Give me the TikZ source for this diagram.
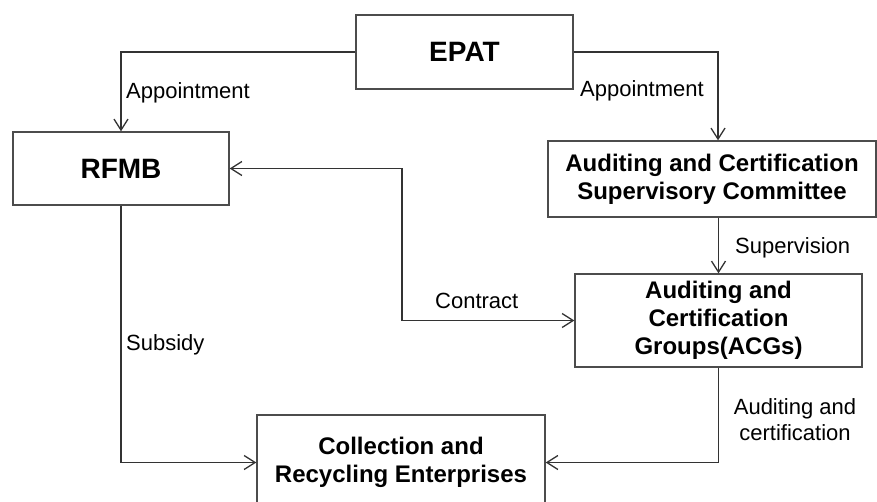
\documentclass[tikz,border=0pt]{standalone}
\usepackage{fontspec}
\setmainfont{Liberation Sans}
\usetikzlibrary{arrows.meta}
\begin{document}
\begin{tikzpicture}[
			x=1pt, y=-1pt,
			box/.style={draw=black!70, line width=1.4pt, fill=white, align=center, inner sep=0pt,
				font=\bfseries\fontsize{24}{28}\selectfont},
			big/.style={font=\bfseries\fontsize{28}{32}\selectfont},
			lbl/.style={inner sep=0pt, font=\fontsize{22}{26}\selectfont},
			conn/.style={draw=black!80, line width=1.3pt},
			arr/.style={conn, -{Straight Barb[length=11pt,width=14pt]}},
			darr/.style={conn, {Straight Barb[length=11pt,width=14pt]}-{Straight Barb[length=11pt,width=14pt]}}
			]
			\useasboundingbox (0,0) rectangle (877,501);
			\clip (0,0) rectangle (877,501);
			% boxes
			\node[box, big, minimum width=217pt, minimum height=74pt] (epat) at (464.5,52) {EPAT};
			\node[box, big, minimum width=216pt, minimum height=73pt] (rfmb) at (121,168.5) {RFMB};
			\node[box, minimum width=328pt, minimum height=76pt] (acsc) at (712,179) {Auditing and Certification\\Supervisory Committee};
			\node[box, minimum width=287pt, minimum height=93pt] (acg) at (718.5,320.5) {Auditing and\\Certification\\Groups(ACGs)};
			\node[box, minimum width=288pt, minimum height=95pt] (cre) at (401,462.5) {Collection and\\Recycling Enterprises};
			% connectors
			\coordinate (cbend) at (402,168.5);
			\draw[arr] (epat.west) -| (rfmb.north);
			\draw[arr] (epat.east) -| ([xshift=6pt]acsc.north);
			\draw[arr] (acg.north |- acsc.south) -- (acg.north);
			\draw[darr] (rfmb.east) -- (cbend) |- (acg.west);
			\draw[arr] (rfmb.south) |- (cre.west);
			\draw[arr] (acg.south) |- (cre.east);
			% labels
			\node[lbl, anchor=west] (app1) at (126,93) {Appointment};
			\node[lbl, anchor=west] (app2) at (580,91) {Appointment};
			\node[lbl, anchor=west] (sup) at (735,248) {Supervision};
			\node[lbl, anchor=west] (con) at (435,301) {Contract};
			\node[lbl, anchor=west] (sub) at (126,345) {Subsidy};
			\node[lbl, align=center] (audc) at (795,420) {Auditing and\\certification};
		\end{tikzpicture}
\end{document}
